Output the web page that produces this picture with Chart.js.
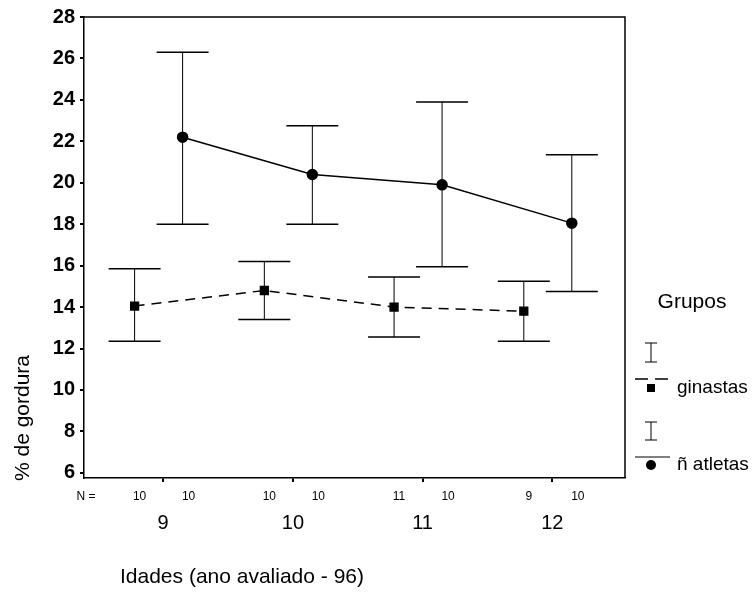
<!DOCTYPE html>
<html>
<head>
<meta charset="utf-8">
<script src="https://cdn.jsdelivr.net/npm/chart.js@4/dist/chart.umd.min.js"></script>
<style>
  html, body { margin: 0; padding: 0; background: #fff; }
  #wrap { width: 755px; height: 597px; position: relative; }
</style>
</head>
<body>
<div id="wrap"><canvas id="grafico" width="755" height="597"></canvas></div>
<script>
// idades avaliadas (eixo x)
const idades = [9, 10, 11, 12];
const yTicks = [6, 8, 10, 12, 14, 16, 18, 20, 22, 24, 26, 28];

// ginastas: media e limites do intervalo
const ginMedia = [14.05, 14.8, 14.0, 13.8];
const ginSup = [15.85, 16.2, 15.45, 15.25];
const ginInf = [12.35, 13.4, 12.55, 12.35];
const ginN = [10, 10, 11, 9];

// nao atletas
const atlMedia = [22.2, 20.4, 19.9, 18.05];
const atlSup = [26.3, 22.75, 23.9, 21.35];
const atlInf = [18.0, 18.0, 15.95, 14.75];
const atlN = [10, 10, 10, 10];

const FONTE = "'Liberation Sans', Arial, sans-serif";
const OFF_GIN = -0.22;
const OFF_ATL = 0.15;

const barras = [
    { sup: ginSup, inf: ginInf, off: OFF_GIN },
    { sup: atlSup, inf: atlInf, off: OFF_ATL }
];

// barras de erro (I) desenhadas pelas escalas do grafico
const errorBars = {
    id: 'errorBars',
    beforeDatasetsDraw(chart) {
        const { ctx, scales: { x, y } } = chart;
        ctx.save();
        ctx.strokeStyle = '#000';
        barras.forEach(b => {
            idades.forEach((idade, i) => {
                const px = x.getPixelForValue(idade + b.off);
                const yTop = y.getPixelForValue(b.sup[i]);
                const yBot = y.getPixelForValue(b.inf[i]);
                ctx.lineWidth = 1;
                ctx.beginPath();
                ctx.moveTo(px, yTop);
                ctx.lineTo(px, yBot);
                ctx.stroke();
                ctx.lineWidth = 1.5;
                ctx.beginPath();
                ctx.moveTo(px - 26, yTop); ctx.lineTo(px + 26, yTop);
                ctx.moveTo(px - 26, yBot); ctx.lineTo(px + 26, yBot);
                ctx.stroke();
            });
        });
        ctx.restore();
    }
};

// moldura, textos de N, titulos e legenda
const extras = {
    id: 'extras',
    afterDraw(chart) {
        const { ctx, chartArea: a, scales: { x } } = chart;
        ctx.save();
        ctx.strokeStyle = '#000';
        ctx.lineWidth = 1.5;
        ctx.beginPath();
        ctx.moveTo(a.left, a.top); ctx.lineTo(a.right, a.top); ctx.lineTo(a.right, a.bottom);
        ctx.stroke();

        ctx.fillStyle = '#000';
        ctx.textBaseline = 'middle';
        ctx.textAlign = 'center';
        ctx.font = '12px ' + FONTE;
        ctx.fillText('N =', 86, 497);
        idades.forEach((idade, i) => {
            ctx.fillText(String(ginN[i]), x.getPixelForValue(idade + OFF_GIN) + 5, 497);
            ctx.fillText(String(atlN[i]), x.getPixelForValue(idade + OFF_ATL) + 6, 497);
        });

        ctx.font = '21px ' + FONTE;
        ctx.textAlign = 'left';
        ctx.fillText('Idades (ano avaliado - 96)', 120, 577);

        ctx.save();
        ctx.translate(23, 418);
        ctx.rotate(-Math.PI / 2);
        ctx.textAlign = 'center';
        ctx.fillText('% de gordura', 0, 0);
        ctx.restore();

        // legenda "Grupos"
        ctx.textAlign = 'center';
        ctx.font = '21px ' + FONTE;
        ctx.fillText('Grupos', 692, 302);
        const lx = 651;
        const simboloI = (yt, yb) => {
            ctx.lineWidth = 1;
            ctx.beginPath();
            ctx.moveTo(lx, yt); ctx.lineTo(lx, yb);
            ctx.moveTo(lx - 6, yt); ctx.lineTo(lx + 6, yt);
            ctx.moveTo(lx - 6, yb); ctx.lineTo(lx + 6, yb);
            ctx.stroke();
        };
        simboloI(343, 362);
        ctx.lineWidth = 1.5;
        ctx.setLineDash([13, 7]);
        ctx.beginPath(); ctx.moveTo(635, 379); ctx.lineTo(670, 379); ctx.stroke();
        ctx.setLineDash([]);
        ctx.fillRect(lx - 4, 384, 8, 8);
        simboloI(422, 440);
        ctx.beginPath(); ctx.moveTo(635, 457); ctx.lineTo(670, 457); ctx.stroke();
        ctx.beginPath(); ctx.arc(lx, 465, 5, 0, Math.PI * 2); ctx.fill();
        ctx.textAlign = 'left';
        ctx.font = '19px ' + FONTE;
        ctx.fillText('ginastas', 677, 388);
        ctx.fillText('ñ atletas', 677, 465);
        ctx.restore();
    }
};

new Chart(document.getElementById('grafico'), {
    type: 'line',
    data: {
        datasets: [
            {
                label: 'ginastas',
                data: idades.map((v, i) => ({ x: v + OFF_GIN, y: ginMedia[i] })),
                borderColor: '#000',
                borderWidth: 1.5,
                borderDash: [10, 7],
                pointStyle: 'rect',
                pointRadius: 5.5,
                pointBackgroundColor: '#000',
                pointBorderColor: '#000',
                fill: false
            },
            {
                label: 'ñ atletas',
                data: idades.map((v, i) => ({ x: v + OFF_ATL, y: atlMedia[i] })),
                borderColor: '#000',
                borderWidth: 1.5,
                pointStyle: 'circle',
                pointRadius: 5,
                pointBackgroundColor: '#000',
                pointBorderColor: '#000',
                fill: false
            }
        ]
    },
    options: {
        responsive: false,
        animation: false,
        devicePixelRatio: 1,
        layout: { padding: { left: 0, top: 16, right: 130, bottom: 0 } },
        plugins: { legend: { display: false }, tooltip: { enabled: false } },
        scales: {
            x: {
                type: 'linear',
                min: 8.39,
                max: 12.56,
                afterBuildTicks: s => { s.ticks = idades.map(v => ({ value: v })); },
                afterFit: s => { s.height = 119; },
                ticks: { color: '#000', font: { family: FONTE, size: 20 }, padding: 29, autoSkip: false, maxRotation: 0 },
                grid: { drawOnChartArea: false, drawTicks: true, tickLength: 4, color: '#000', lineWidth: 2 },
                border: { color: '#000', width: 1.5 }
            },
            y: {
                min: 5.75,
                max: 28,
                afterBuildTicks: s => { s.ticks = yTicks.map(v => ({ value: v })); },
                afterFit: s => { s.width = 84; },
                ticks: { color: '#000', font: { family: FONTE, size: 20, weight: 'bold' }, padding: 5 },
                grid: { drawOnChartArea: false, drawTicks: true, tickLength: 4, color: '#000', lineWidth: 2 },
                border: { color: '#000', width: 1.5 }
            }
        }
    },
    plugins: [errorBars, extras]
});
</script>
</body>
</html>
